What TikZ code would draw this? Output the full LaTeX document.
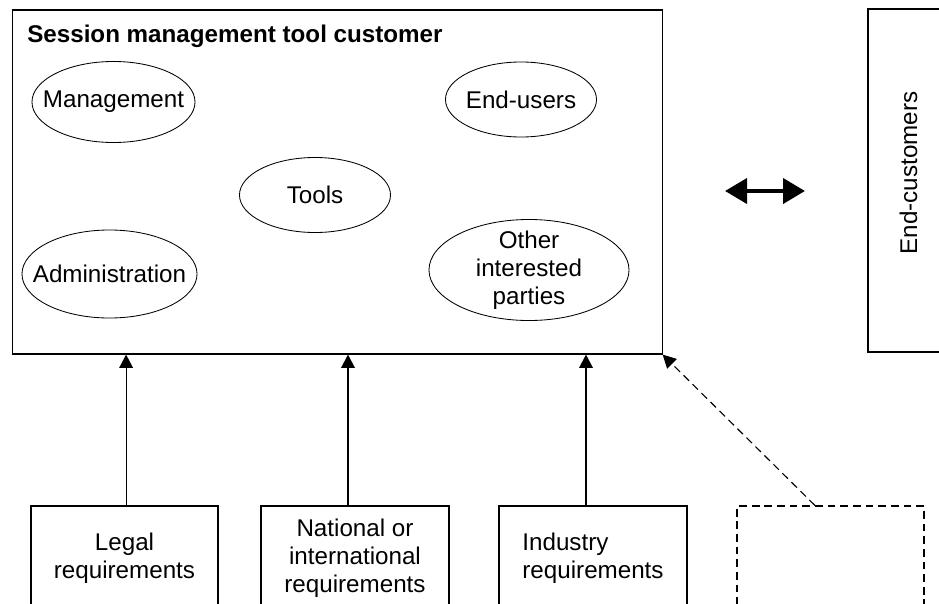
\documentclass[tikz,border=0pt]{standalone}
\usepackage{fontspec}
\setmainfont{Liberation Sans}
\usepackage{tikz}
\usetikzlibrary{arrows.meta,shapes.geometric}

\begin{document}
\begin{tikzpicture}[x=0.025cm,y=-0.025cm,
        font=\fontsize{17.2}{20}\selectfont,
        box/.style={draw,line width=0.8pt,inner sep=0pt},
        blob/.style={draw,ellipse,line width=0.6pt,inner sep=0pt},
        req/.style={box,minimum width=4.7cm,minimum height=2.6cm},
        arr/.style={-{Triangle[length=0.33cm,width=0.34cm]},line width=0.8pt},
        dbl/.style={{Triangle[length=0.55cm,width=0.62cm]}-{Triangle[length=0.55cm,width=0.62cm]},line width=3.2pt}]
                \useasboundingbox (0,0) rectangle (939,604);
                \clip (0,0) rectangle (939,604);

                \node[box,minimum width=16.225cm,minimum height=8.6cm] (main) at (337.5,182) {};
                \node[anchor=base west,inner sep=0pt,font=\fontsize{17.2}{20}\selectfont\bfseries] (title) at (27,43) {Session management tool customer};

                \node[blob,minimum width=4.075cm,minimum height=2.025cm,label=center:{Management}] (mgmt) at (113.5,102) {};
                \node[blob,minimum width=3.775cm,minimum height=1.875cm,label=center:{End-users}] (users) at (521,99.5) {};
                \node[blob,minimum width=3.775cm,minimum height=1.875cm,label=center:{Tools}] (tools) at (315,195) {};
                \node[blob,minimum width=4.375cm,minimum height=2.2cm,label=center:{Administration}] (admin) at (109.5,274) {};
                \node[blob,minimum width=5cm,minimum height=2.525cm,label={[align=center]center:Other\\interested\\parties}] (other) at (529,270) {};

                \node[box,minimum width=2.8cm,minimum height=8.575cm] (endc) at (924,180.5) {};
                \node[rotate=90] (endctext) at (908.5,173) {End-customers};

                \coordinate (dl) at (725,191);
                \coordinate (dr) at (805,191);
                \draw[dbl] (dl) -- (dr);

                \node[req,minimum width=4.675cm,align=center] (legal) at (124.5,558) {Legal\\requirements};
                \node[req,align=center] (natl) at (355,558) {National or\\international\\requirements};
                \node[req,align=left] (ind) at (593,558) {Industry\\requirements};
                \node[req,minimum width=4.675cm,dashed,dash pattern=on 5.5pt off 3.5pt] (other req) at (830.5,558) {};

                \draw[arr] ([xshift=0.04cm]legal.north) -- ([xshift=0.04cm]legal.north |- main.south);
                \draw[arr] ([xshift=-0.175cm]natl.north) -- ([xshift=-0.175cm]natl.north |- main.south);
                \draw[arr] ([xshift=-0.175cm]ind.north) -- ([xshift=-0.175cm]ind.north |- main.south);
                \draw[arr,dash pattern=on 5.5pt off 3.5pt] ([xshift=-0.39cm]other req.north) -- (main.south east);
            \end{tikzpicture}
\end{document}
